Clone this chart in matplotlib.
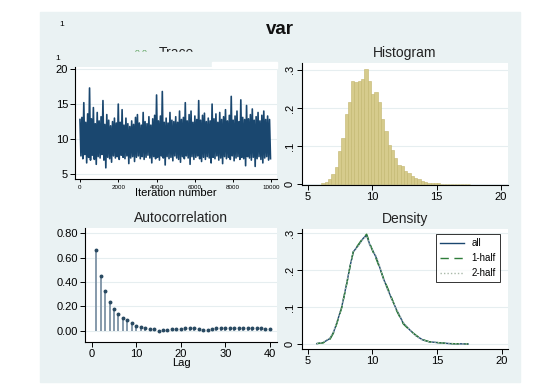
"""
Bayesian diagnostics for var: trace, histogram, autocorrelation, density
"""
import numpy as np
import matplotlib.pyplot as plt
from matplotlib.patches import Rectangle

plt.rcParams['font.family'] = ['Liberation Sans', 'DejaVu Sans']

W, H = 534, 391
BG = '#eaf2f3'
NAVY = '#1a476f'
GRID = '#e6eef0'

# trace: upper and lower swing of the chain, every 100 iterations
trace_hi = [12.8, 13.1, 15.2, 12.4, 13.6, 17.3, 12.9, 14.5, 12.2, 13.8,
            12.6, 13.2, 15.5, 12.1, 13.5, 12.7, 11.9, 12.5, 13.0, 12.3,
            15.0, 12.4, 14.2, 12.0, 13.0, 12.2, 11.8, 12.6, 12.1, 13.1,
            13.5, 12.3, 12.0, 13.8, 12.5, 12.2, 13.2, 12.0, 12.9, 13.4,
            16.3, 12.6, 13.3, 16.8, 12.4, 13.0, 12.3, 13.8, 12.7, 12.5,
            13.2, 12.4, 14.0, 12.8, 13.1, 15.2, 12.6, 13.5, 14.0, 12.4,
            13.3, 12.8, 15.5, 12.7, 13.4, 13.7, 12.5, 13.0, 12.6, 15.0,
            12.9, 13.6, 12.4, 13.8, 12.8, 13.2, 14.2, 12.6, 13.4, 16.1,
            12.7, 13.3, 14.0, 12.5, 15.6, 13.1, 12.8, 14.8, 12.9, 13.5,
            14.3, 12.7, 13.2, 13.8, 12.6, 13.4, 14.0, 12.8, 13.3, 12.8]
trace_lo = [7.6, 7.2, 7.8, 6.6, 7.4, 7.0, 7.7, 7.1, 6.4, 7.5,
            7.3, 7.8, 7.0, 5.9, 7.4, 7.2, 6.7, 7.6, 7.3, 7.5,
            7.1, 7.7, 7.4, 7.2, 7.6, 6.5, 7.3, 7.5, 6.8, 7.4,
            7.6, 7.2, 7.5, 7.1, 7.4, 7.7, 7.3, 6.6, 7.5, 7.2,
            7.4, 7.0, 7.6, 7.3, 6.3, 7.5, 7.2, 7.4, 6.9, 7.6,
            7.3, 7.1, 6.7, 7.5, 7.2, 7.6, 7.3, 6.4, 7.5, 7.1,
            7.4, 7.6, 7.2, 6.8, 7.4, 7.1, 7.5, 7.3, 6.6, 7.4,
            7.2, 7.6, 7.0, 7.3, 6.5, 7.5, 7.2, 7.4, 7.1, 7.6,
            6.9, 7.3, 7.5, 7.1, 7.4, 7.2, 6.2, 7.5, 7.3, 7.0,
            7.4, 6.1, 7.2, 7.5, 7.1, 6.6, 7.3, 7.5, 7.0, 7.2]

# histogram of the draws
hist_left = 6.04
hist_width = 0.257
hist_heights = [0.003, 0.007, 0.015, 0.026, 0.045, 0.087, 0.122, 0.184, 0.217, 0.270,
                0.267, 0.270, 0.276, 0.302, 0.272, 0.237, 0.243, 0.217, 0.170, 0.139,
                0.102, 0.091, 0.070, 0.050, 0.048, 0.035, 0.029, 0.022, 0.017, 0.013,
                0.009, 0.006, 0.004, 0.003, 0.002, 0.002, 0.0015, 0.001, 0.001, 0.001,
                0.0008, 0.0005, 0.0005, 0.0004, 0.0003]

# autocorrelation by lag
lags = list(range(1, 41))
acf = [0.663, 0.449, 0.326, 0.238, 0.175, 0.137, 0.107, 0.088, 0.060, 0.041,
       0.030, 0.022, 0.016, 0.011, -0.003, 0.003, 0.005, 0.011, 0.014, 0.016,
       0.019, 0.022, 0.019, 0.011, 0.005, 0.008, 0.014, 0.020, 0.022, 0.025,
       0.022, 0.019, 0.022, 0.022, 0.022, 0.022, 0.019, 0.019, 0.016, 0.014]

# kernel density: all draws, first half, second half
dens_x = [5.7, 6.2, 6.73, 7.0, 7.24, 7.63, 8.02, 8.3, 8.53, 8.92, 9.3, 9.56, 9.82,
          10.08, 10.33, 10.6, 10.85, 11.37, 11.88, 12.4, 12.9, 13.4, 13.9, 14.4,
          14.97, 16.0, 17.4]
dens_all = [0.001, 0.004, 0.015, 0.032, 0.056, 0.100, 0.165, 0.215, 0.250, 0.268,
            0.287, 0.295, 0.268, 0.250, 0.232, 0.205, 0.178, 0.133, 0.092, 0.056,
            0.038, 0.022, 0.011, 0.006, 0.004, 0.001, 0.0]
dens_h1 = [0.001, 0.003, 0.013, 0.030, 0.054, 0.098, 0.163, 0.214, 0.251, 0.270,
           0.289, 0.298, 0.272, 0.247, 0.228, 0.203, 0.180, 0.136, 0.090, 0.054,
           0.037, 0.023, 0.012, 0.006, 0.004, 0.001, 0.0]
dens_h2 = [0.001, 0.005, 0.017, 0.034, 0.058, 0.102, 0.167, 0.216, 0.249, 0.266,
           0.285, 0.292, 0.265, 0.252, 0.236, 0.207, 0.176, 0.130, 0.094, 0.058,
           0.039, 0.021, 0.010, 0.006, 0.004, 0.001, 0.0]


def box(l, r, t, b):
    return [l / W, (H - b) / H, (r - l) / W, (b - t) / H]


def style(ax):
    ax.set_facecolor('white')
    for s in ['top', 'right']:
        ax.spines[s].set_visible(False)
    for s in ['left', 'bottom']:
        ax.spines[s].set_linewidth(0.8)
    ax.tick_params(length=3.5, width=0.7, pad=1.5, labelsize=8)
    ax.grid(axis='y', color=GRID, lw=0.8)
    ax.set_axisbelow(True)


fig = plt.figure(figsize=(W / 100, H / 100), dpi=100)
fig.patches.append(Rectangle((40 / W, (H - 382) / H), 480 / W, 370 / H,
                             transform=fig.transFigure, color=BG, zorder=-5))

fig.text(280 / W, 1 - 30 / H, 'var', ha='center', va='center',
         fontsize=13.5, fontweight='bold', color='#111111')
fig.text(62 / W, 1 - 24 / H, '1', ha='center', va='center', fontsize=6)
fig.text(58 / W, 1 - 59 / H, '1', ha='center', va='center', fontsize=6)
fig.text(141 / W, 1 - 52 / H, 'o o', ha='center', va='center', fontsize=6,
         color='#4c9a4c', zorder=1)
fig.text(176 / W, 1 - 53 / H, 'Trace', ha='center', va='center', fontsize=10,
         color='#222222', zorder=1)
fig.patches.append(Rectangle((120 / W, (H - 62) / H), 100 / W, 10 / H,
                             transform=fig.transFigure, color=BG, zorder=3))
fig.patches.append(Rectangle((212 / W, (H - 68) / H), 65 / W, 6 / H,
                             transform=fig.transFigure, color='white', zorder=3))

# trace
ax1 = fig.add_axes(box(75, 277, 67, 179))
style(ax1)
it = []
vals = []
for i in range(len(trace_hi)):
    it += [i * 100, i * 100 + 50]
    vals += [trace_hi[i], trace_lo[i]]
ax1.plot(it, vals, color=NAVY, lw=1.2)
ax1.set_xlim(-260, 10290)
ax1.set_ylim(4.3, 20.3)
ax1.set_yticks([5, 10, 15, 20])
ax1.set_xticks(range(0, 10001, 2000))
ax1.tick_params(axis='x', labelsize=4.5, length=2.5)
ax1.set_xlabel('Iteration number', fontsize=8, labelpad=-1)

# histogram
ax2 = fig.add_axes(box(302, 508, 63, 185))
style(ax2)
edges = [hist_left + hist_width * i for i in range(len(hist_heights))]
ax2.bar(edges, hist_heights, width=hist_width, align='edge',
        color='#d6cb8c', edgecolor='#c2b56c', lw=0.4)
ax2.set_xlim(4.53, 20.54)
ax2.set_ylim(-0.002, 0.318)
ax2.set_xticks([5, 10, 15, 20])
ax2.set_yticks([0, 0.1, 0.2, 0.3])
ax2.set_yticklabels(['0', '.1', '.2', '.3'], rotation=90, va='center')
ax2.set_title('Histogram', fontsize=10, pad=4, color='#222222')

# autocorrelation
ax3 = fig.add_axes(box(85, 277, 228, 342))
style(ax3)
ax3.vlines(lags, 0, acf, color='#7d92a5', lw=1.3)
ax3.plot(lags, acf, 'o', ms=1.8, color='#2a4a62')
ax3.set_xlim(-1.5, 41.6)
ax3.set_ylim(-0.093, 0.843)
ax3.set_xticks([0, 10, 20, 30, 40])
ax3.set_yticks([0, 0.2, 0.4, 0.6, 0.8])
ax3.set_yticklabels(['0.00', '0.20', '0.40', '0.60', '0.80'])
ax3.set_xlabel('Lag', fontsize=8, labelpad=-1)
ax3.set_title('Autocorrelation', fontsize=10, pad=4, color='#222222')

# density
ax4 = fig.add_axes(box(302, 508, 229, 349))
style(ax4)
ax4.plot(dens_x, dens_all, color=NAVY, lw=1.0, label='all')
ax4.plot(dens_x, dens_h1, color='#2e7d3a', lw=1.0, ls=(0, (6, 4)), label='1-half')
ax4.plot(dens_x, dens_h2, color='#a8b8a8', lw=1.0, ls=(0, (1, 1.5)), label='2-half')
ax4.set_xlim(4.56, 20.49)
ax4.set_ylim(-0.0136, 0.312)
ax4.set_xticks([5, 10, 15, 20])
ax4.set_yticks([0, 0.1, 0.2, 0.3])
ax4.set_yticklabels(['0', '.1', '.2', '.3'], rotation=90, va='center')
ax4.set_title('Density', fontsize=10, pad=4, color='#222222')
leg = ax4.legend(loc='upper right', fontsize=7, frameon=True, fancybox=False,
                 handlelength=2.4, borderpad=0.45, labelspacing=0.5,
                 bbox_to_anchor=(0.985, 1.0))
leg.get_frame().set_edgecolor('black')
leg.get_frame().set_linewidth(0.7)

fig.savefig('out.png', dpi=100)
